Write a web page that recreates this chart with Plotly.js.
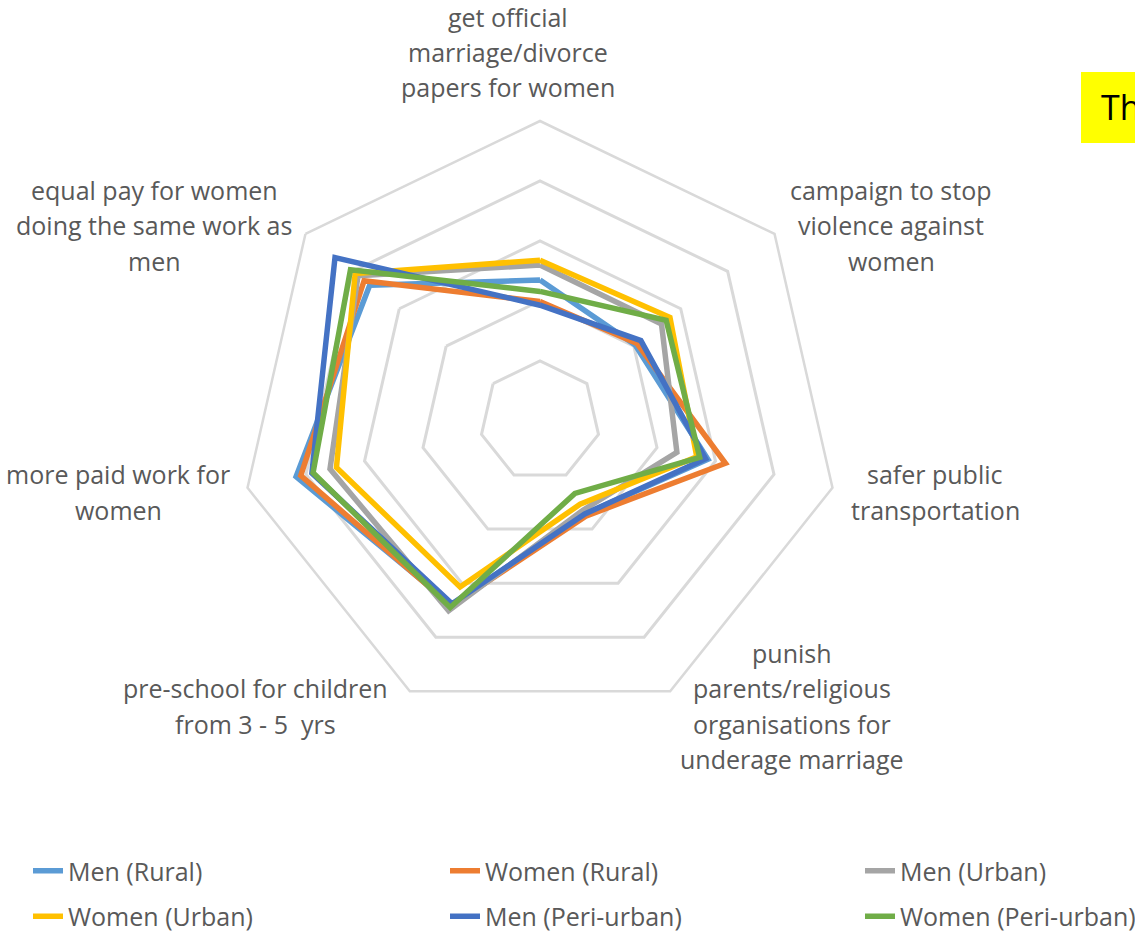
<!DOCTYPE html>
<html>
<head>
<meta charset="utf-8">
<script src="https://cdn.plot.ly/plotly-3.0.1.min.js"></script>
<style>
html,body{margin:0;padding:0;background:#ffffff;}
#chart{width:1135px;height:933px;}
</style>
</head>
<body>
<div id="chart"></div>
<script>
// ---- data ----
const categories = [
  "get official marriage/divorce papers for women",
  "campaign to stop violence against women",
  "safer public transportation",
  "punish parents/religious organisations for underage marriage",
  "pre-school for children from 3 - 5  yrs",
  "more paid work for women",
  "equal pay for women doing the same work as men"
];
const categoryLabelLines = [
  ["get official", "marriage/divorce", "papers for women"],
  ["campaign to stop", "violence against", "women"],
  ["safer public", "transportation"],
  ["punish", "parents/religious", "organisations for", "underage marriage"],
  ["pre-school for children", "from 3 - 5  yrs"],
  ["more paid work for", "women"],
  ["equal pay for women", "doing the same work as", "men"]
];
const seriesNames = ["Men (Rural)", "Women (Rural)", "Men (Urban)", "Women (Urban)", "Men (Peri-urban)", "Women (Peri-urban)"];
const menRural      = [2.35, 2.03, 2.87, 1.72, 3.40, 4.17, 3.63];
const womenRural    = [1.99, 2.07, 3.17, 1.76, 3.42, 4.09, 3.75];
const menUrban      = [2.60, 2.59, 2.34, 1.65, 3.51, 3.59, 3.88];
const womenUrban    = [2.68, 2.77, 2.68, 1.54, 3.07, 3.48, 3.94];
const menPeriUrban  = [1.93, 2.15, 2.83, 1.72, 3.38, 3.90, 4.37];
const womenPeriUrban= [2.16, 2.69, 2.73, 1.34, 3.45, 3.88, 4.04];
const seriesValues = [menRural, womenRural, menUrban, womenUrban, menPeriUrban, womenPeriUrban];
const seriesColors = ["#5B9BD5", "#ED7D31", "#A5A5A5", "#FFC000", "#4472C4", "#70AD47"];
const boxText = "Th";

// ---- layout helpers ----
const W = 1135, H = 933;
const FONT = "Open Sans, Lato, sans-serif";
const TXT = "#595959";
const px = v => v / W;
const py = v => 1 - v / H;

// legend columns: series index -> legend id
const legendIds = ["legend", "legend2", "legend3", "legend", "legend2", "legend3"];

const traces = seriesValues.map((vals, i) => ({
  type: "scatterpolar",
  mode: "lines",
  r: vals.concat([vals[0]]),
  theta: categories.concat([categories[0]]),
  name: seriesNames[i],
  line: {color: seriesColors[i], width: 5.5, shape: "linear"},
  legend: legendIds[i],
  legendgroup: "g" + i,
  hoverinfo: "name+r+theta"
}));

// category label positions (pixel centres of each text block)
const labelPos = [
  [508, 52], [891, 225], [935, 492], [792, 706], [255, 706], [118, 492], [154, 225]
];
const LINE_GAP = 35.5;
const annotations = [];
categoryLabelLines.forEach((lines, i) => {
  const n = lines.length;
  lines.forEach((t, k) => {
    annotations.push({
      text: t, xref: "paper", yref: "paper",
      x: px(labelPos[i][0]), y: py(labelPos[i][1] + (k - (n - 1) / 2) * LINE_GAP),
      xanchor: "center", yanchor: "middle", showarrow: false, borderpad: 0,
      font: {family: FONT, size: 25, color: TXT}
    });
  });
});
annotations.push({
  text: boxText, xref: "paper", yref: "paper",
  x: px(1099), y: py(107), xanchor: "left", yanchor: "middle", showarrow: false,
  font: {family: FONT, size: 34, color: "#000000"}
});

const legendCommon = {
  orientation: "v", xanchor: "left", yanchor: "top",
  bgcolor: "rgba(0,0,0,0)", borderwidth: 0,
  font: {family: FONT, size: 25, color: TXT},
  tracegroupgap: 10, traceorder: "grouped", itemclick: false
};

const layout = {
  width: W, height: H,
  margin: {l: 0, r: 0, t: 0, b: 0, autoexpand: false},
  paper_bgcolor: "#ffffff",
  showlegend: true,
  polar: {
    domain: {x: [px(240), px(840)], y: [1 - 721/H, 1 - 121/H]},
    bgcolor: "#ffffff",
    gridshape: "linear",
    radialaxis: {
      range: [0, 5], dtick: 1, tick0: 0,
      showticklabels: false, ticks: "", showline: false,
      gridcolor: "#D9D9D9", gridwidth: 2.5
    },
    angularaxis: {
      direction: "clockwise", rotation: 90,
      showticklabels: false, ticks: "", showgrid: false,
      showline: true, linecolor: "#D9D9D9", linewidth: 2.5
    }
  },
  legend:  Object.assign({}, legendCommon, {x: px(28),  y: py(848)}),
  legend2: Object.assign({}, legendCommon, {x: px(445), y: py(848)}),
  legend3: Object.assign({}, legendCommon, {x: px(860), y: py(848)}),
  shapes: [{
    type: "rect", xref: "paper", yref: "paper",
    x0: px(1081), x1: px(1140), y0: py(143), y1: py(72),
    fillcolor: "#FFFF00", line: {width: 0}, layer: "below"
  }],
  annotations: annotations
};

Plotly.newPlot("chart", traces, layout, {displayModeBar: false, responsive: false});
</script>
</body>
</html>
